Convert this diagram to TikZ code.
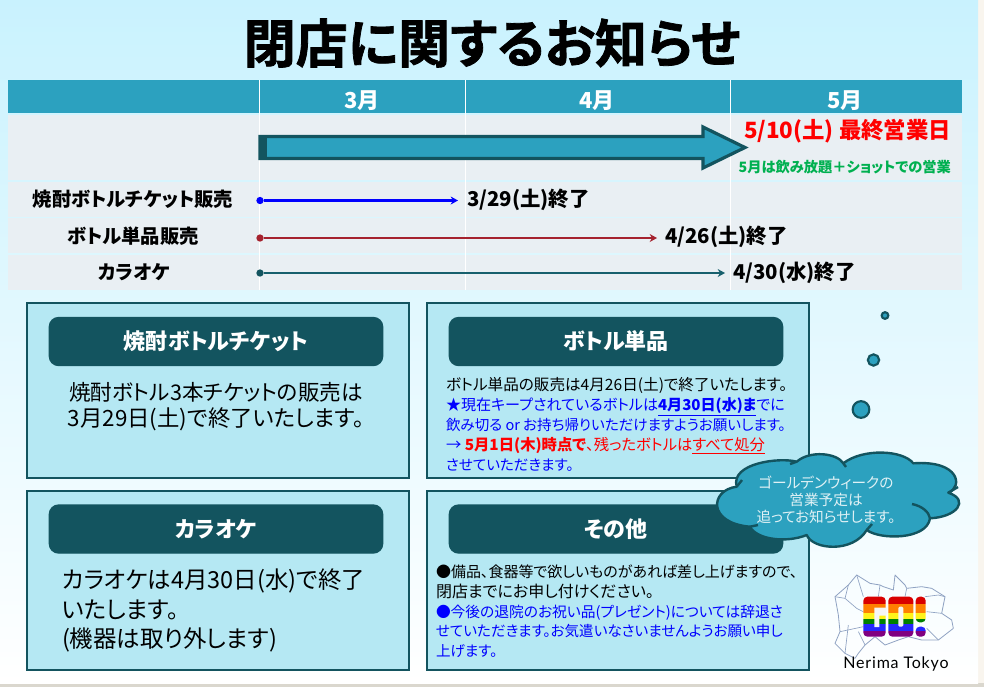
\documentclass[tikz,border=0pt]{standalone}
\usepackage{fontspec}
\setmainfont[RawFeature=+palt]{Noto Sans CJK JP}
\newfontfamily\heavy[UprightFont=* Bold,FakeBold=1.5,RawFeature=+palt]{Noto Sans CJK JP}
\newfontfamily\logofont[LetterSpace=5]{Lato}
\usetikzlibrary{arrows.meta}
\definecolor{hdr}{HTML}{2CA1BF}
\definecolor{rowbg}{HTML}{E9EFF3}
\definecolor{dteal}{HTML}{13545F}
\definecolor{boxbg}{HTML}{B5E8F3}
\definecolor{ared}{HTML}{A5222E}
\definecolor{agreen}{HTML}{00B050}
\definecolor{mapline}{HTML}{8FA2C2}
\definecolor{bgtop}{HTML}{C9F2FE}
\definecolor{bgmid}{HTML}{EFFBFE}
\definecolor{edge}{HTML}{F9F5EE}
\definecolor{band}{HTML}{DAD7CE}
\newcommand\fsz[1]{\fontsize{#1}{#1}\selectfont}
\newcommand\lsz[2]{{\fontsize{#1}{15.1pt}\selectfont #2}}
\tikzset{
  txt/.style={inner sep=0pt,outer sep=0pt},
  hdrtxt/.style={txt,text=white,font=\fsz{16.5pt}\bfseries},
  rowtxt/.style={txt,font=\fsz{14.5pt}\bfseries},
  endtxt/.style={txt,anchor=west,font=\fsz{15.3pt}\bfseries},
  panel/.style={draw=dteal,line width=2.2pt,fill=boxbg},
  pill/.style={draw=dteal,fill=dteal,line width=1pt,rounded corners=7pt,text=white,font=\fsz{16.5pt}\bfseries,inner sep=0pt,minimum width=250pt,minimum height=36pt},
  bubble/.style={circle,draw=dteal,line width=1.6pt,fill=hdr,inner sep=0pt},
  startdot/.style={circle,inner sep=0pt,minimum size=5.5pt},
  tl/.style={line width=1.9pt,-{Stealth[length=5.5pt,width=6pt]}},
}
\begin{document}
\begin{tikzpicture}[x=0.75pt,y=-0.75pt]
\useasboundingbox (0,0) rectangle (984,687);
\fill[edge] (0,0) rectangle (984,687);
\fill[band] (0,683) rectangle (984,687);
\shade[top color=bgtop,middle color=bgmid,bottom color=white] (0,0) rectangle (978,683);
% title
\node[txt,font=\heavy\fsz{39pt}] (title) at (492,43) {閉店に関するお知らせ};
% table
\fill[hdr] (8,80) rectangle (962,113);
\fill[rowbg] (8,115) rectangle (962,180);
\fill[rowbg] (8,181.5) rectangle (962,216.5);
\fill[rowbg] (8,218) rectangle (962,253);
\fill[rowbg] (8,254.5) rectangle (962,289.5);
\foreach \xx in {259,465,730} \draw[white,line width=0.7pt] (\xx,80) -- (\xx,290);
\node[hdrtxt] (m3) at (362,101) {3月};
\node[hdrtxt] (m4) at (597,101) {4月};
\node[hdrtxt] (m5) at (845,101) {5月};
% big arrow
\draw[dteal,line width=2.4pt,fill=hdr,line join=miter] (260,136.5) -- (703,136.5) -- (703,127) -- (745,147.5) -- (703,168) -- (703,158.5) -- (260,158.5) -- cycle;
\fill[dteal] (258.5,135.5) rectangle (267,159.5);
\node[txt,anchor=east,text=red,font=\fsz{16.8pt}\bfseries] (last) at (951,131) {5/10(土) 最終営業日};
\node[txt,anchor=east,text=agreen,font=\fsz{10.7pt}\bfseries] (may) at (951,167) {5月は飲み放題＋ショットでの営業};
% rows
\node[rowtxt] (r1) at (133,199.5) {焼酎ボトルチケット販売};
\node[rowtxt] (r2) at (133,236.5) {ボトル単品販売};
\node[rowtxt] (r3) at (134,272.5) {カラオケ};
\node[endtxt] (e1) at (467,199.5) {3/29(土)終了};
\node[endtxt] (e2) at (665,236.5) {4/26(土)終了};
\node[endtxt] (e3) at (733,272.5) {4/30(水)終了};
\node[startdot,fill=blue] (s1) at (260,200.5) {};
\node[startdot,fill=ared] (s2) at (260,238) {};
\node[startdot,fill=dteal] (s3) at (260,273) {};
\coordinate (t1) at (458,200.5);
\coordinate (t2) at (657,238);
\coordinate (t3) at (725,273);
\draw[tl,blue] (s1) -- (t1);
\draw[tl,ared] (s2) -- (t2);
\draw[tl,dteal!85!hdr] (s3) -- (t3);
% panels
\draw[panel] (27,303) rectangle (409,478);
\draw[panel] (27,491) rectangle (409,670);
\draw[panel] (427,303) rectangle (809,478);
\draw[panel] (427,491) rectangle (809,670);
\node[pill] (p1) at (216,341.5) {焼酎ボトルチケット};
\node[pill] (p2) at (216,529) {カラオケ};
\node[pill] (p3) at (616,341.5) {ボトル単品};
\node[pill] (p4) at (616,529) {その他};
\node[txt,align=center,font=\fontsize{16.2pt}{19.7pt}\selectfont] (b1) at (216,406.5) {焼酎ボトル3本チケットの販売は\\{\fontsize{16.8pt}{19.7pt}\selectfont 3月29日(土)で終了いたします。}};
\node[txt,anchor=north west,align=left,font=\fontsize{17.6pt}{22.2pt}\selectfont] (b2) at (62,569) {カラオケは4月30日(水)で終了\\いたします。\\(機器は取り外します)};
\node[txt,anchor=north west,align=left,font=\fontsize{10.9pt}{15.1pt}\selectfont] (b3) at (446,377) {\lsz{11.7pt}{ボトル単品の販売は4月26日(土)で終了いたします。}\\
\textcolor{blue}{\lsz{11.3pt}{★現在キープされているボトルは\underline{\textbf{4月30日(水)ま}}でに}}\\
\textcolor{blue}{飲み切る or お持ち帰りいただけますようお願いします。}\\
\textcolor{blue}{\lsz{11.5pt}{→ }}\textcolor{red}{\lsz{11.5pt}{\textbf{5月1日(木)時点で}、残ったボトルは\underline{すべて処分}}}\\
\textcolor{blue}{させていただきます。}};
\node[txt,anchor=north west,align=left,font=\fontsize{10.9pt}{14.8pt}\selectfont] (b4) at (436,565) {\lsz{11.25pt}{●備品、食器等で欲しいものがあれば差し上げますので、}\\
\lsz{12pt}{閉店までにお申し付けください。}\\
\textcolor{blue}{\lsz{11.05pt}{●今後の退院のお祝い品(プレゼント)については辞退さ}}\\
\textcolor{blue}{せていただきます。お気遣いなさいませんようお願い申し}\\
\textcolor{blue}{上げます。}};
% bubbles
\node[bubble,minimum size=5pt] (c1) at (885,315.5) {};
\node[bubble,minimum size=8.5pt] (c2) at (873.5,360) {};
\node[bubble,minimum size=12.5pt] (c3) at (861,409.5) {};
% cloud
\draw[dteal,line width=1.8pt,fill=hdr,line join=round]
 (736.7,486.7) .. controls (730,463) and (780,457) .. (796.7,461.7)
 .. controls (810,450) and (837,453) .. (843.3,463.3)
 .. controls (863,448) and (903,450) .. (913.3,463.3)
 .. controls (960,460) and (963,487) .. (948.3,492.7)
 .. controls (970,500) and (957,517) .. (930,518.3)
 .. controls (927,540) and (880,540) .. (866.7,530)
 .. controls (853,553) and (813,550) .. (806.7,535)
 .. controls (787,543) and (757,540) .. (750,526.7)
 .. controls (707,523) and (710,490) .. (736.7,486.7) -- cycle;
\draw[dteal,line width=1.8pt] (948.3,492.7) -- (958,487);
\draw[dteal,line width=1.8pt] (912,504) .. controls (922,506) and (929,512) .. (930,518.3);
\draw[dteal,line width=1.8pt] (866.7,530) -- (872,524);
\draw[dteal,line width=1.8pt] (750,526.7) -- (758,525);
\draw[dteal,line width=1.8pt] (736.7,486.7) -- (742,480);
\draw[dteal,line width=1.8pt] (796.7,461.7) -- (790,464);
\draw[dteal,line width=1.8pt] (843.3,463.3) -- (846,467);
\node[txt,align=center,text=white!85!hdr,font=\fontsize{11pt}{12.6pt}\selectfont] (cl) at (826,500) {ゴールデンウィークの\\営業予定は\\追ってお知らせします。};
% logo
\begin{scope}[shift={(825,565)},x=0.25pt,y=-0.25pt]
\draw[mapline,line width=0.6pt,line join=round] (30,95)--(70,60)--(95,30)--(135,55)--(165,60)--(175,65)--(205,75)--(210,30)--(240,60)--(245,70)--(290,65)--(320,70)--(360,95)--(350,145)--(380,165)--(385,190)--(340,225)--(290,225)--(250,215)--(220,225)--(180,240)--(150,215)--(120,240)--(100,265)--(90,280)--(60,265)--(30,235)--(45,200)--(40,150)--cycle;
\draw[mapline,line width=0.5pt,line join=round] (70,60)--(60,100)--(95,130)--(115,140);
\draw[mapline,line width=0.5pt] (30,95)--(60,100);
\draw[mapline,line width=0.5pt] (95,30)--(115,95);
\draw[mapline,line width=0.5pt] (165,60)--(160,95);
\draw[mapline,line width=0.5pt] (245,70)--(240,95);
\draw[mapline,line width=0.5pt] (300,95)--(340,90)--(360,95);
\draw[mapline,line width=0.5pt] (305,140)--(350,145);
\draw[mapline,line width=0.5pt] (100,200)--(120,240);
\draw[mapline,line width=0.5pt] (45,200)--(115,185);
\draw[mapline,line width=0.5pt] (305,190)--(340,225);
\draw[mapline,line width=0.5pt] (70,180)--(60,265);
\begin{scope}
\clip[rounded corners=3pt] (115,95) rectangle (182,215) (190,95) rectangle (265,215) (272,95) rectangle (302,172) (272,185) rectangle (302,215);
\fill[red!85!black] (110,90) rectangle (310,118);
\fill[orange] (110,118) rectangle (310,145);
\fill[yellow!90!white] (110,145) rectangle (310,163);
\fill[green!50!black] (110,163) rectangle (310,178);
\fill[blue!85!white] (110,178) rectangle (310,198);
\fill[violet] (110,198) rectangle (310,220);
\end{scope}
\fill[white!85!lightgray] (184,128) -- (148,128) -- (148,186) -- (163,186) -- (163,152) -- (184,152) -- cycle;
\fill[white!85!lightgray,rounded corners=1pt] (220,125) rectangle (235,185);
\node[txt,anchor=center,font=\logofont\fontsize{12pt}{12pt}\selectfont,text=black] (logo) at (213,297) {Nerima Tokyo};
\end{scope}
\end{tikzpicture}
\end{document}
